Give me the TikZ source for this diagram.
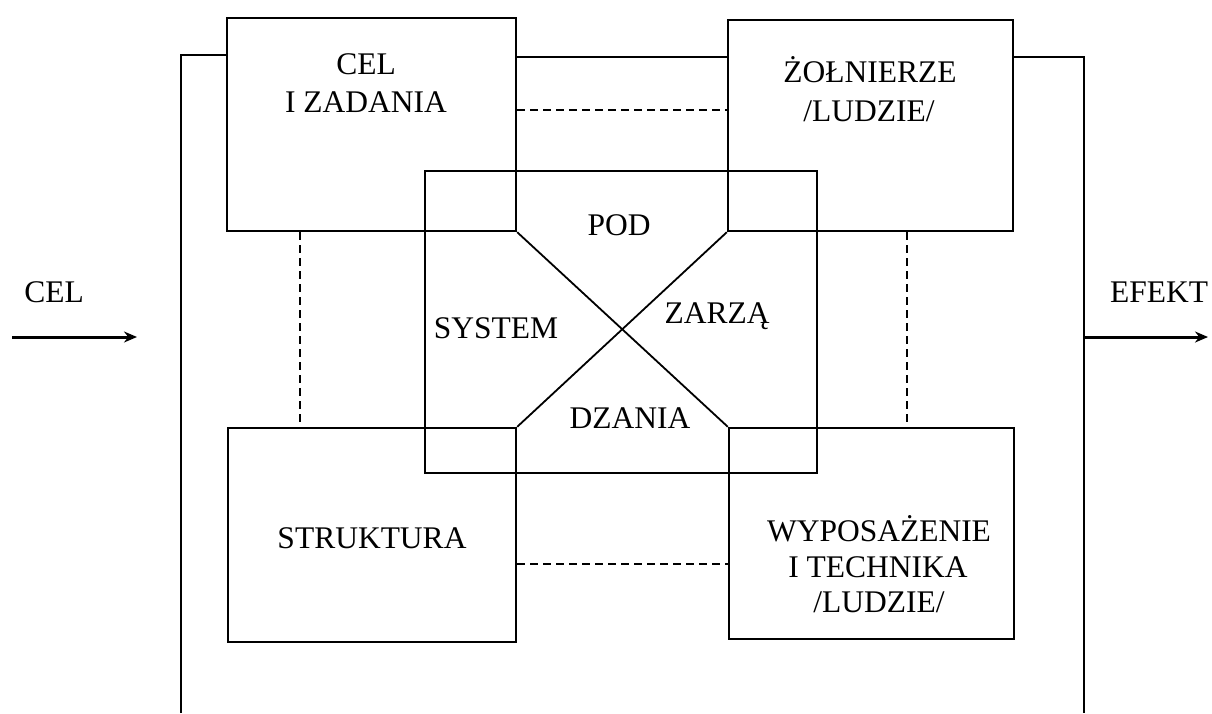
\documentclass[tikz,border=0pt]{standalone}
\usepackage{fontspec}
\setmainfont{Liberation Serif}
\usetikzlibrary{arrows.meta,calc}
\begin{document}
\begin{tikzpicture}[x=1pt,y=-1pt,
  box/.style={draw,line width=2.4pt,rectangle,inner sep=0pt},
  txt/.style={anchor=base,inner sep=0pt,font=\fontsize{31.5}{37}\selectfont},
  dashline/.style={line width=2.2pt,dash pattern=on 8pt off 5pt},
  diag/.style={line width=1.8pt},
  frame/.style={line width=2.4pt},
  arr/.style={line width=3pt,-{Stealth[length=13pt,width=11pt]}}]
\useasboundingbox (0,0) rectangle (1212,713);
% boxes
\node[box,minimum width=289pt,minimum height=213pt] (cel) at (371.5,124.5) {};
\node[box,minimum width=285pt,minimum height=211pt] (zol) at (870.5,125.5) {};
\node[box,minimum width=392pt,minimum height=302pt] (sys) at (621,322) {};
\node[box,minimum width=288pt,minimum height=214pt] (str) at (372,535) {};
\node[box,minimum width=285pt,minimum height=211pt] (wyp) at (871.5,533.5) {};
% texts
\node[txt] (t1a) at (366,74) {CEL};
\node[txt] (t1b) at (366,112) {I ZADANIA};
\node[txt] (t2a) at (870,82) {ŻOŁNIERZE};
\node[txt] (t2b) at (869,121) {/LUDZIE/};
\node[txt] (t3) at (619,235) {POD};
\node[txt] (t4) at (496,338) {SYSTEM};
\node[txt] (t5) at (717,323) {ZARZĄ};
\node[txt] (t6) at (630,428) {DZANIA};
\node[txt] (t7) at (372,548) {STRUKTURA};
\node[txt] (t8a) at (879,541) {WYPOSAŻENIE};
\node[txt] (t8b) at (878,577) {I TECHNIKA};
\node[txt] (t8c) at (879,612) {/LUDZIE/};
\node[txt] (lin) at (54,302) {CEL};
\node[txt] (lout) at (1159,302) {EFEKT};
% diagonals
\draw[diag] (cel.south east) -- (wyp.north west);
\draw[diag] (zol.south west) -- (str.north east);
% dashed links
\coordinate (ytop) at (0,110);
\coordinate (ybot) at (0,564);
\coordinate (xl) at (300,0);
\coordinate (xr) at (907,0);
\draw[dashline] (cel.east |- ytop) -- (zol.west |- ytop);
\draw[dashline] (str.east |- ybot) -- (wyp.west |- ybot);
\draw[dashline] (xl |- cel.south) -- (xl |- str.north);
\draw[dashline] (xr |- zol.south) -- (xr |- wyp.north);
% outer frame
\coordinate (fbl) at (181,713);
\coordinate (ftl) at (181,55);
\coordinate (ftr) at (1084,57);
\coordinate (fbr) at (1084,713);
\coordinate (y57) at (0,57);
\draw[frame] (fbl) -- (ftl) -- (cel.west |- ftl);
\draw[frame] (cel.east |- y57) -- (zol.west |- y57);
\draw[frame] (zol.east |- y57) -- (ftr) -- (fbr);
% arrows
\coordinate (inA) at (12,337);
\coordinate (inB) at (137,337);
\coordinate (outA) at (1084,337);
\coordinate (outB) at (1208,337);
\draw[arr] (inA) -- (inB);
\draw[arr] (outA) -- (outB);
\end{tikzpicture}
\end{document}
